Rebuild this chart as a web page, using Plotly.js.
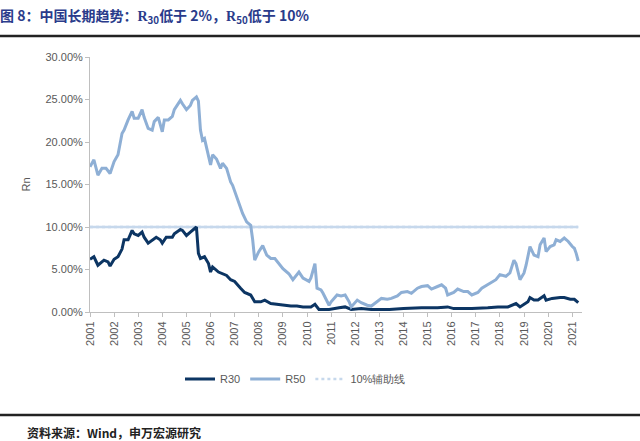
<!DOCTYPE html>
<html>
<head>
<meta charset="utf-8">
<script src="https://cdn.plot.ly/plotly-3.0.1.min.js"></script>
<style>
html,body{margin:0;padding:0;background:#fff;}
#chart{width:640px;height:441px;}
</style>
</head>
<body>
<div id="chart"></div>
<script>
// ---- data (values in %) ----
const r50Dates = ["2001-01","2001-03","2001-05","2001-07","2001-09","2001-11","2002-01","2002-03","2002-05","2002-06","2002-08","2002-10","2002-11","2003-01","2003-03","2003-04","2003-06","2003-08","2003-09","2003-11","2004-01","2004-02","2004-04","2004-06","2004-07","2004-10","2004-11","2005-01","2005-03","2005-04","2005-06","2005-07","2005-08","2005-09","2005-10","2005-12","2006-01","2006-02","2006-04","2006-06","2006-07","2006-09","2006-11","2006-12","2007-02","2007-04","2007-05","2007-07","2007-09","2007-10","2007-11","2008-01","2008-03","2008-05","2008-07","2008-09","2008-11","2009-01","2009-04","2009-06","2009-09","2009-11","2010-02","2010-03","2010-05","2010-06","2010-08","2010-09","2010-12","2011-01","2011-04","2011-06","2011-08","2011-10","2011-11","2012-02","2012-04","2012-07","2012-09","2012-12","2013-02","2013-05","2013-07","2013-10","2013-12","2014-03","2014-05","2014-08","2014-10","2015-01","2015-03","2015-06","2015-08","2015-10","2015-11","2016-02","2016-04","2016-07","2016-09","2016-11","2017-02","2017-04","2017-07","2017-09","2017-11","2018-01","2018-04","2018-06","2018-08","2018-09","2018-11","2019-01","2019-02","2019-04","2019-06","2019-08","2019-09","2019-11","2019-12","2020-02","2020-04","2020-05","2020-07","2020-09","2020-11","2021-01","2021-02","2021-03","2021-04"];
const r50Values = [17.1,17.9,16.1,16.9,16.9,16.3,17.7,18.5,21.0,21.4,22.6,23.6,22.8,22.8,23.8,22.9,21.6,21.4,22.4,22.9,21.2,22.6,22.6,23.0,23.8,24.9,24.5,23.8,24.3,24.9,25.3,24.8,21.4,20.2,20.4,18.5,17.3,18.5,18.0,16.9,17.5,16.9,15.3,14.9,13.6,12.4,11.6,10.6,10.2,8.5,6.1,7.1,7.8,6.7,6.3,6.3,5.7,5.1,4.5,3.8,4.7,4.0,3.6,4.0,5.7,2.8,2.6,2.2,0.8,1.2,2.0,1.9,2.0,1.2,0.6,1.4,1.1,0.8,0.7,1.2,1.6,1.5,1.6,1.9,2.3,2.4,2.2,2.8,3.0,3.1,2.7,3.0,3.2,2.8,2.0,2.3,2.7,2.4,2.4,2.0,2.3,2.8,3.2,3.5,3.8,4.4,4.2,4.6,6.1,5.7,3.8,4.6,5.5,7.7,6.7,6.5,7.9,8.7,7.1,7.7,7.9,8.5,8.3,8.7,8.3,7.7,7.5,6.9,6.0];

const r30Dates = ["2001-01","2001-03","2001-05","2001-08","2001-10","2001-11","2002-01","2002-03","2002-05","2002-06","2002-08","2002-10","2002-11","2003-01","2003-03","2003-04","2003-06","2003-08","2003-10","2003-12","2004-01","2004-03","2004-06","2004-07","2004-10","2004-11","2005-01","2005-03","2005-05","2005-06","2005-07","2005-08","2005-10","2005-12","2006-01","2006-02","2006-05","2006-07","2006-09","2006-11","2007-01","2007-04","2007-06","2007-09","2007-11","2008-02","2008-04","2008-07","2008-10","2009-01","2009-05","2009-08","2009-11","2010-03","2010-05","2010-07","2010-12","2011-05","2011-08","2011-11","2012-04","2012-09","2013-06","2014-01","2014-10","2015-06","2015-11","2016-02","2016-11","2017-07","2017-12","2018-05","2018-07","2018-09","2018-11","2019-02","2019-03","2019-04","2019-06","2019-08","2019-11","2019-12","2020-03","2020-07","2020-09","2020-12","2021-02","2021-04"];
const r30Values = [6.2,6.5,5.5,6.1,5.9,5.4,6.2,6.5,7.4,8.5,8.5,9.6,9.2,9.0,9.4,8.8,8.1,8.5,8.8,8.5,8.1,8.8,8.8,9.2,9.7,9.6,9.0,9.4,9.8,10.0,6.9,6.3,6.5,5.7,4.7,5.3,4.7,4.5,4.3,3.8,3.6,2.8,2.3,2.0,1.2,1.2,1.4,1.0,0.9,0.8,0.7,0.7,0.6,0.6,0.9,0.3,0.3,0.5,0.6,0.3,0.4,0.3,0.3,0.4,0.5,0.5,0.6,0.4,0.4,0.5,0.6,0.6,0.8,1.0,0.6,1.0,1.2,1.7,1.4,1.4,1.9,1.4,1.6,1.7,1.7,1.5,1.5,1.1];

const refDates = ["2001-01","2021-04"];
const refValues = [10, 10];

const yearTicks = ["2001","2002","2003","2004","2005","2006","2007","2008","2009","2010","2011","2012","2013","2014","2015","2016","2017","2018","2019","2020","2021"];

// ---- chart ----
const traces = [
  // dotted version (legend entry), drawn underneath the solid reference line
  {x: refDates, y: refValues, name: "10%辅助线", type: "scatter", mode: "lines",
   line: {color: "#c6d8ec", width: 2.5, dash: "dot"}, legendrank: 3},
  {x: refDates, y: refValues, name: "10%辅助线", type: "scatter", mode: "lines",
   line: {color: "#c6d8ec", width: 2.5}, showlegend: false},
  {x: r30Dates, y: r30Values, name: "R30", type: "scatter", mode: "lines",
   line: {color: "#0c3563", width: 3}, legendrank: 1},
  {x: r50Dates, y: r50Values, name: "R50", type: "scatter", mode: "lines",
   line: {color: "#8eafd5", width: 3}, legendrank: 2}
];

const L = 90, R = 58, T = 57, B = 129, W = 640, H = 441;
const pw = W - L - R, ph = H - T - B;
const px = v => (v - L) / pw;
const py = v => (H - B - v) / ph;

const layout = {
  width: W, height: H,
  margin: {l: L, r: R, t: T, b: B, pad: 0},
  paper_bgcolor: "#fff", plot_bgcolor: "#fff",
  font: {family: "Liberation Sans, Arial, sans-serif", size: 11, color: "#595959"},
  title: {
    text: "图 8：中国长期趋势：<span style='font-family:Liberation Serif'>R</span><sub>30</sub>低于 2%，<span style='font-family:Liberation Serif'>R</span><sub>50</sub>低于 10%",
    font: {family: "Noto Sans CJK SC, sans-serif", size: 14, color: "#2a3b8b", weight: "bold"},
    x: 0.0, xanchor: "left", xref: "container",
    y: 1 - 16 / H, yanchor: "middle", yref: "container"
  },
  showlegend: true,
  legend: {
    orientation: "h", x: px(180), xanchor: "left", y: py(379), yanchor: "middle",
    font: {size: 11, color: "#595959"}, bgcolor: "rgba(0,0,0,0)", itemwidth: 30,
    traceorder: "normal"
  },
  xaxis: {
    type: "date",
    range: ["2001-01-01", "2021-05-28"],
    tickvals: yearTicks.map(y => y + "-01-01"),
    ticktext: yearTicks,
    tickangle: -90,
    ticks: "outside", ticklen: 4, tickcolor: "#bfbfbf",
    showline: true, linecolor: "#bfbfbf", linewidth: 1,
    showgrid: false, zeroline: false,
    tickfont: {size: 11, color: "#595959"}
  },
  yaxis: {
    range: [0, 30], dtick: 5, tick0: 0,
    tickformat: ".2f", ticksuffix: "%",
    ticks: "outside", ticklen: 4, tickcolor: "#bfbfbf",
    showline: true, linecolor: "#bfbfbf", linewidth: 1,
    showgrid: false, zeroline: false,
    tickfont: {size: 11, color: "#595959"},
    title: {text: "Rn", font: {size: 11, color: "#595959"}, standoff: 12}
  },
  shapes: [
    {type: "line", xref: "paper", yref: "paper", x0: px(0), x1: px(640), y0: py(36), y1: py(36),
     line: {color: "#222", width: 2.5}},
    {type: "line", xref: "paper", yref: "paper", x0: px(0), x1: px(640), y0: py(415), y1: py(415),
     line: {color: "#222", width: 2.5}}
  ],
  annotations: [
    {text: "资料来源：Wind，申万宏源研究", xref: "paper", yref: "paper",
     x: px(25), xanchor: "left", y: py(432), yanchor: "middle", showarrow: false,
     font: {family: "Noto Sans CJK SC, sans-serif", size: 12, color: "#222", weight: "bold"}}
  ]
};

Plotly.newPlot("chart", traces, layout, {displayModeBar: false, staticPlot: true});
</script>
</body>
</html>
